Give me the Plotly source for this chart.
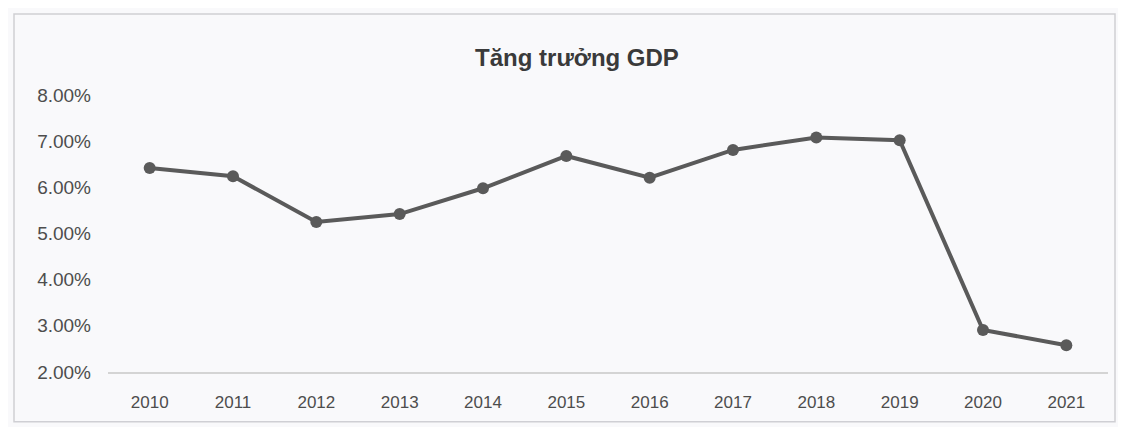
import plotly.graph_objects as go

years = ["2010", "2011", "2012", "2013", "2014", "2015", "2016", "2017", "2018", "2019", "2020", "2021"]
gdp_growth = [0.0642, 0.0624, 0.0525, 0.0542, 0.0598, 0.0668, 0.0621, 0.0681, 0.0708, 0.0702, 0.0291, 0.0258]
title_text = "Tăng trưởng GDP"

x_tick_font = dict(family="Liberation Sans, Arial", size=17, color="#4d4d4d")
y_tick_font = dict(family="Liberation Sans, Arial", size=19, color="#4d4d4d")

fig = go.Figure()
fig.add_trace(go.Scatter(
    x=years, y=gdp_growth, mode="lines+markers",
    line=dict(color="#5a5a5a", width=4),
    marker=dict(color="#5a5a5a", size=12),
    hoverinfo="x+y",
))

fig.update_layout(
    template="none",
    width=1118, height=419,
    margin=dict(l=100, r=18, t=87, b=55),
    paper_bgcolor="#f9f9fb", plot_bgcolor="#f9f9fb",
    showlegend=False,
    title=dict(text="<b>" + title_text + "</b>", xref="paper", x=0.469, xanchor="center",
               y=1 - 50 / 419, yanchor="middle",
               font=dict(family="Liberation Sans, Arial", size=24, color="#3a3a3a")),
    font=dict(family="Liberation Sans, Arial", size=17, color="#4d4d4d"),
    xaxis=dict(type="category", range=[-0.5, 11.5], showgrid=False, showline=True,
               linecolor="#d4d4d4", linewidth=1.5, ticks="", ticklabelstandoff=14,
               zeroline=False, tickfont=x_tick_font),
    yaxis=dict(range=[0.02, 0.08], dtick=0.01, tickformat=".2%", showgrid=False,
               showline=False, zeroline=False, ticks="", ticklabelstandoff=16,
               tickfont=y_tick_font),
    shapes=[dict(type="rect", xref="paper", yref="paper",
                 x0=-0.094, x1=1.007, y0=-0.18, y1=1.292,
                 line=dict(color="#cfcfd4", width=1.5), fillcolor="rgba(0,0,0,0)")],
)

fig.write_html("out.html")
